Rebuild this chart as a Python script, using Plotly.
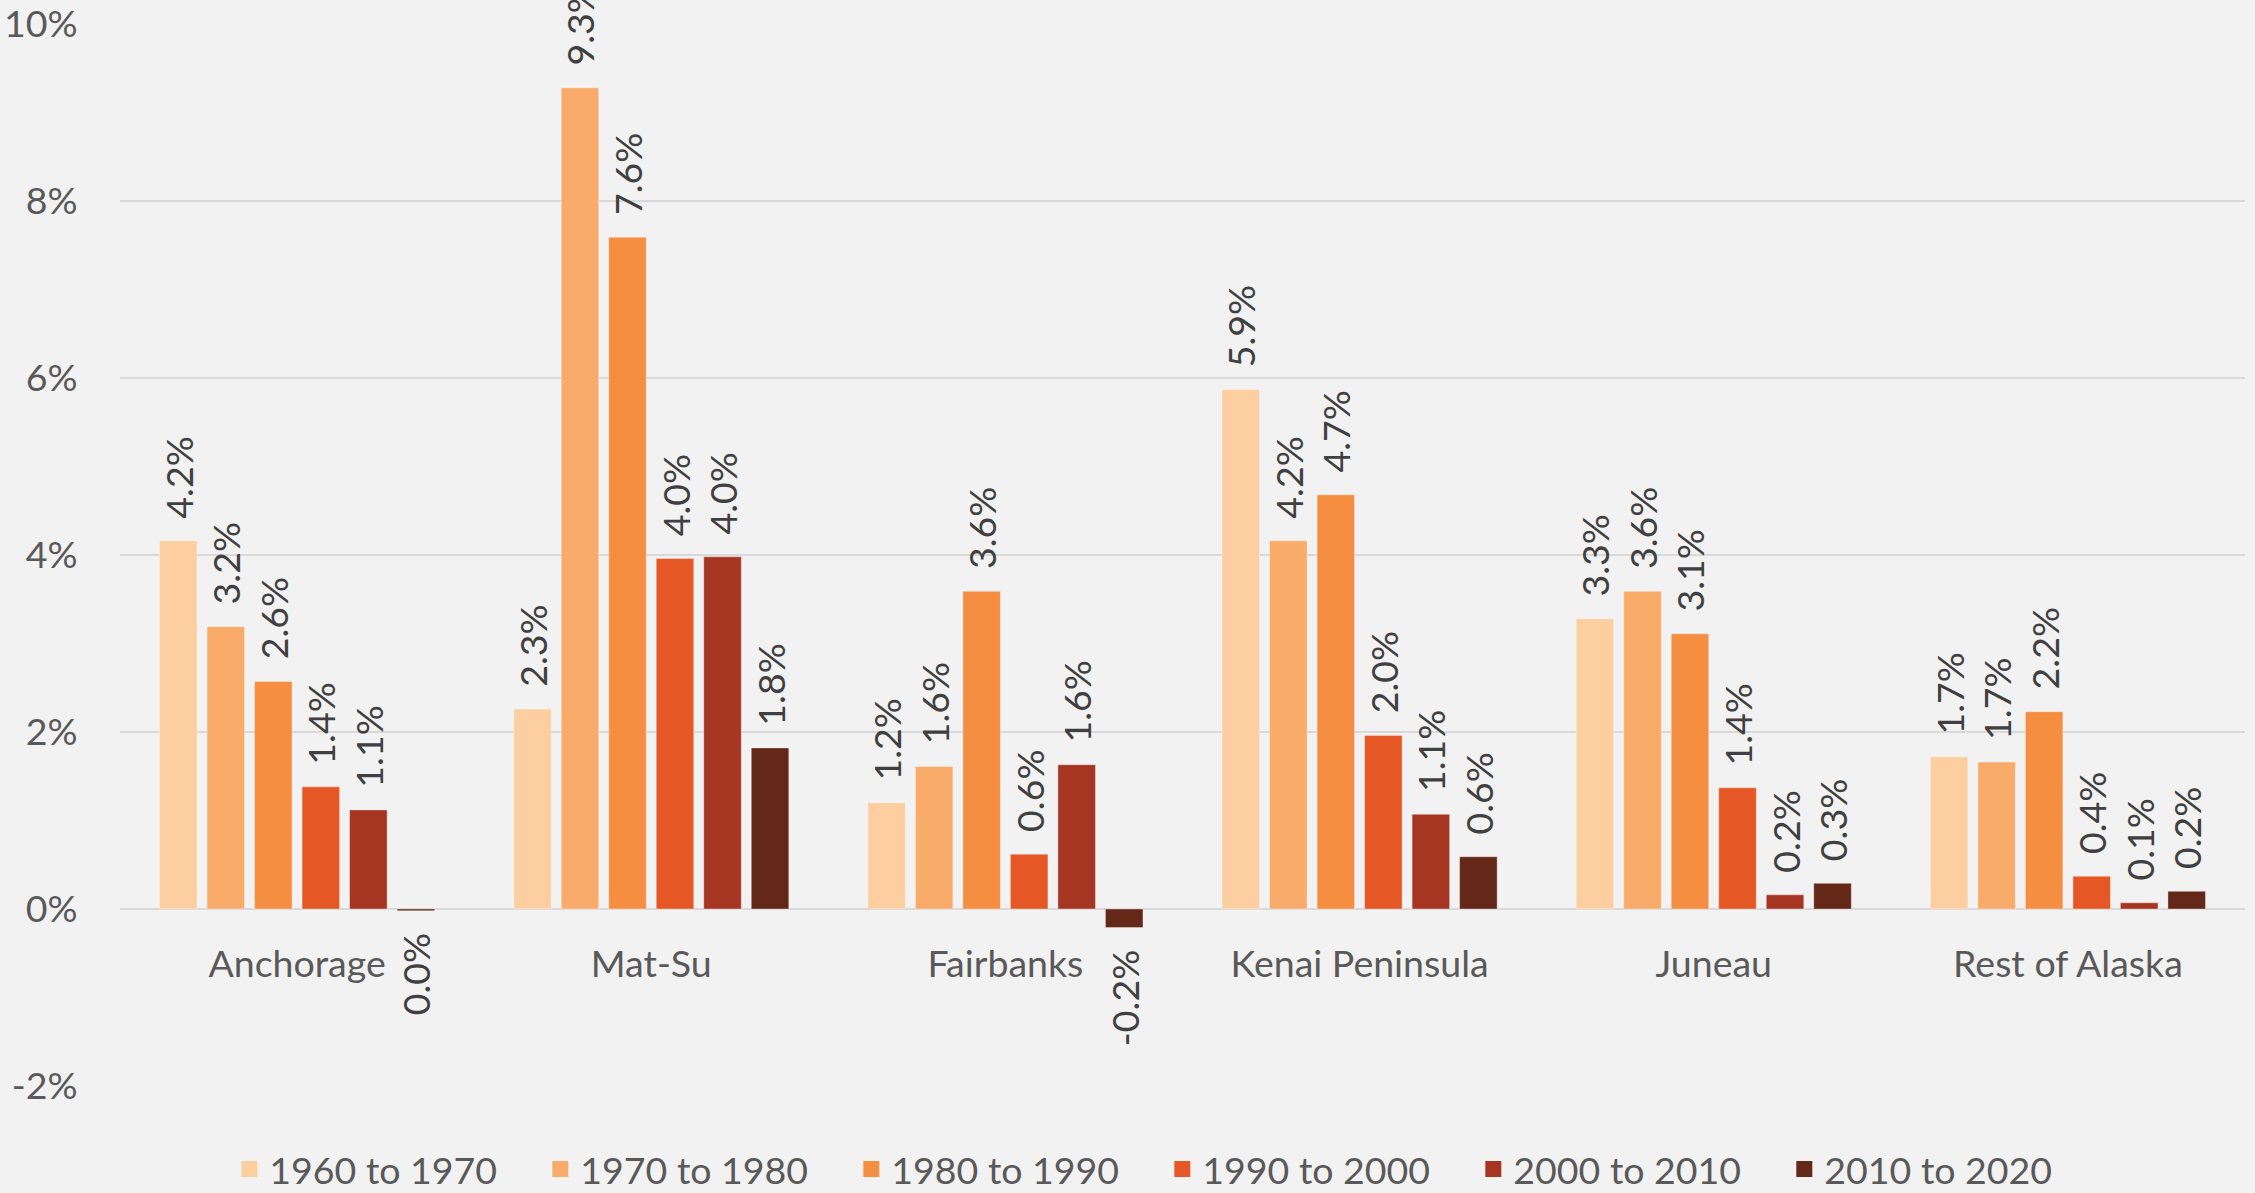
import plotly.graph_objects as go

categories = ["Anchorage", "Mat-Su", "Fairbanks", "Kenai Peninsula", "Juneau", "Rest of Alaska"]
series_names = ["1960 to 1970", "1970 to 1980", "1980 to 1990", "1990 to 2000", "2000 to 2010", "2010 to 2020"]

s1960 = [4.16, 2.26, 1.20, 5.87, 3.28, 1.72]
s1970 = [3.19, 9.28, 1.61, 4.16, 3.59, 1.66]
s1980 = [2.57, 7.59, 3.59, 4.68, 3.11, 2.23]
s1990 = [1.38, 3.96, 0.62, 1.96, 1.37, 0.37]
s2000 = [1.12, 3.98, 1.63, 1.07, 0.16, 0.07]
s2010 = [-0.02, 1.82, -0.21, 0.59, 0.29, 0.20]

series_values = [s1960, s1970, s1980, s1990, s2000, s2010]
colors = ["#FDCFA0", "#F9AC69", "#F68E42", "#E65726", "#A63622", "#642819"]

y_ticks = [-2, 0, 2, 4, 6, 8, 10]
y_ticktext = [f"{t}%" for t in y_ticks]

FONT = "Lato"
FS = 37.5
PAD = "\u00a0\u00a0"


def label(v):
    r = round(v, 1)
    txt = f"{abs(r):.1f}%" if r == 0 else f"{r:.1f}%"
    return PAD + txt if v >= 0 else txt + PAD


fig = go.Figure()
for name, vals, col in zip(series_names, series_values, colors):
    fig.add_trace(go.Bar(
        x=categories, y=vals, name=name, showlegend=False,
        marker=dict(color=col, line=dict(color="rgba(255,255,255,0.35)", width=1)),
        text=[label(v) for v in vals],
        textposition="outside", textangle=-90, constraintext="none",
        cliponaxis=False,
        textfont=dict(family=FONT, size=FS, color="#404040"),
    ))
# legend keys (square swatches)
for name, col in zip(series_names, colors):
    fig.add_trace(go.Scatter(
        x=[None], y=[None], name=name, mode="markers",
        marker=dict(symbol="square", size=22, color=col),
        showlegend=True,
    ))

fig.update_layout(
    width=2255, height=1193,
    margin=dict(l=120, r=10, t=24, b=107, autoexpand=False),
    paper_bgcolor="#F2F2F2", plot_bgcolor="#F2F2F2",
    barmode="group", bargap=0.195, bargroupgap=0.21,
    font=dict(family=FONT, size=FS, color="#595959"),
    showlegend=True,
    legend=dict(orientation="h", x=0.4905, xanchor="center", y=-0.049, yanchor="top",
                font=dict(family=FONT, size=FS, color="#595959"),
                entrywidth=266, bgcolor="rgba(0,0,0,0)", traceorder="normal",
                itemsizing="trace"),
)
fig.update_yaxes(range=[-2, 10], tickvals=y_ticks, ticktext=y_ticktext,
                 showgrid=True, gridcolor="#D9D9D9", gridwidth=2,
                 zeroline=False, showline=False, automargin=False,
                 ticks="outside", ticklen=34, tickcolor="rgba(0,0,0,0)",
                 tickfont=dict(family=FONT, size=FS, color="#595959"))
fig.update_xaxes(anchor="free", position=1/6, showline=False, showgrid=False,
                 automargin=False,
                 ticks="outside", ticklen=22, tickcolor="rgba(0,0,0,0)",
                 tickfont=dict(family=FONT, size=FS, color="#595959"))

fig.write_html(
    "out.html",
    config={"displayModeBar": False},
    post_script="document.body.style.margin='0';document.body.style.padding='0';"
                "document.body.style.overflow='hidden';document.body.style.background='#F2F2F2';",
)
